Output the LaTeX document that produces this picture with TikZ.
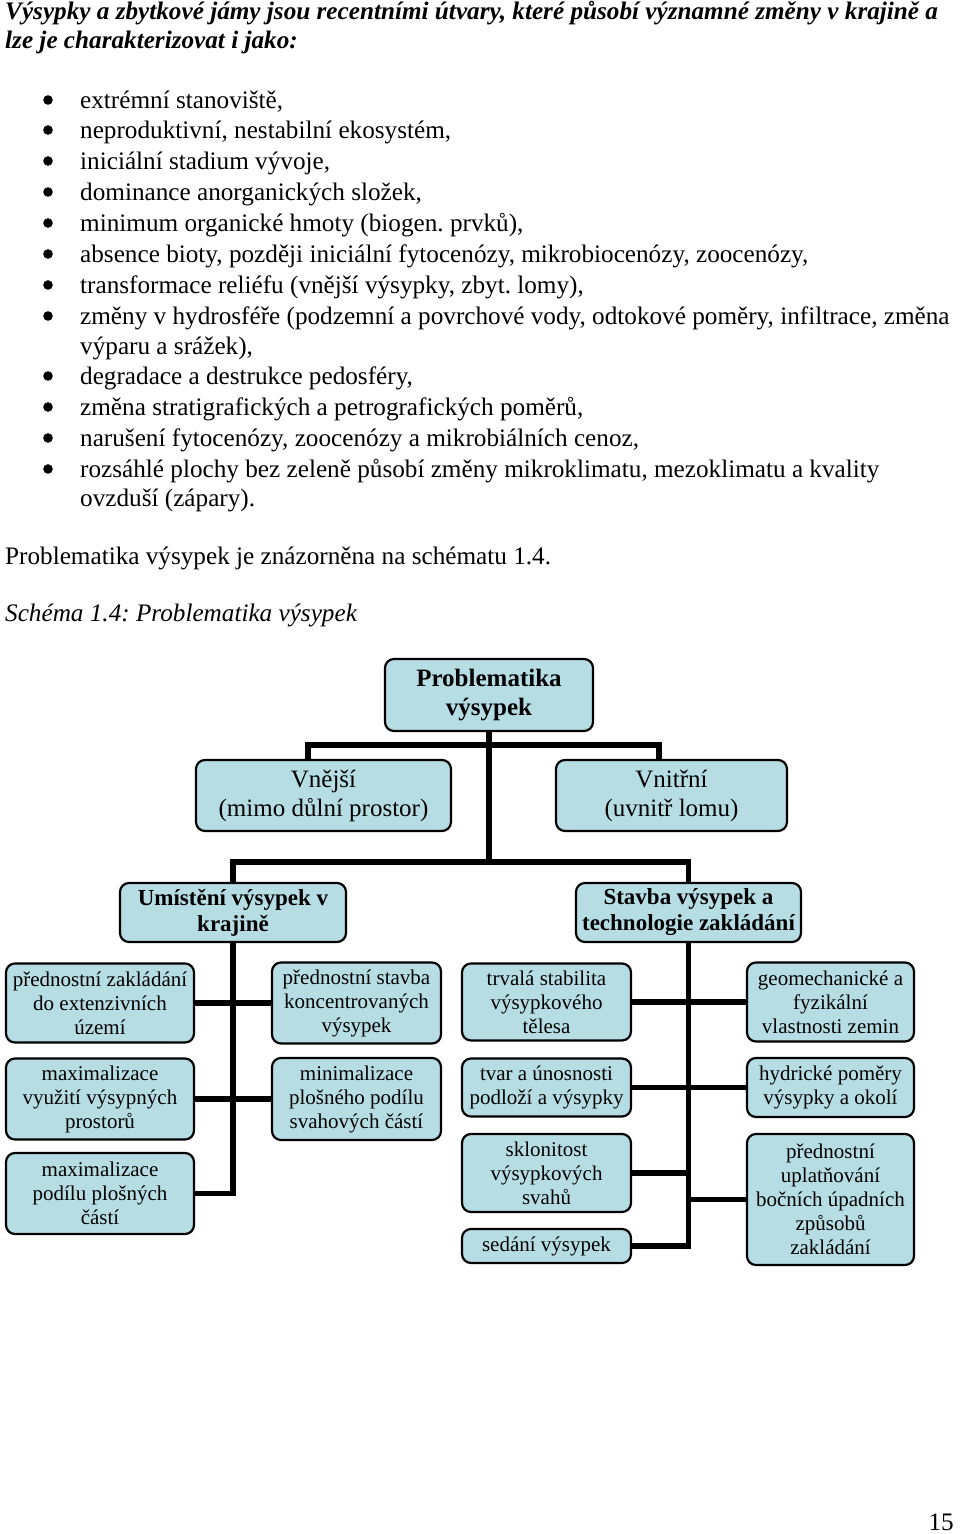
\documentclass[tikz,border=0pt]{standalone}
\usepackage{fontspec}
\setmainfont{Liberation Serif}
\usepackage{xcolor}
\definecolor{boxfill}{RGB}{183,221,228}
\tikzset{
  box/.style = {draw, line width=2.2pt, rounded corners=9pt, fill=boxfill, align=center, inner sep=0pt},
  small/.style = {box, font=\fontsize{21}{24}\selectfont},
  big/.style = {box, font=\fontsize{25}{29}\selectfont},
  head/.style = {box, font=\bfseries\fontsize{23}{26}\selectfont},
  conn/.style = {line width=5.5pt},
  txt/.style = {anchor=base west, inner sep=0pt, font=\fontsize{25.2}{31}\selectfont}
}
\frenchspacing

\begin{document}
\begin{tikzpicture}[x=1pt, y=-1pt]
	\useasboundingbox (0,0) rectangle (960,1534);
	% nadpis
	\node [txt, font=\bfseries\itshape\fontsize{25.2}{31}\selectfont] (h1) at (5,19) {Výsypky a zbytkové jámy jsou recentními útvary, které působí významné změny v krajině a};
	\node [txt, font=\bfseries\itshape\fontsize{25.2}{31}\selectfont] (h2) at (5,48) {lze je charakterizovat i jako:};
	% odrážky
	\foreach \y in {100,130,161,192,223,254,285,316,376,407,438,469}
		\fill (48,\y) circle (4.8);
	\node [txt] (l1) at (80,108) {extrémní stanoviště,};
	\node [txt] (l2) at (80,138) {neproduktivní, nestabilní ekosystém,};
	\node [txt] (l3) at (80,169) {iniciální stadium vývoje,};
	\node [txt] (l4) at (80,200) {dominance anorganických složek,};
	\node [txt] (l5) at (80,231) {minimum organické hmoty (biogen. prvků),};
	\node [txt] (l6) at (80,262) {absence bioty, později iniciální fytocenózy, mikrobiocenózy, zoocenózy,};
	\node [txt] (l7) at (80,293) {transformace reliéfu (vnější výsypky, zbyt. lomy),};
	\node [txt] (l8) at (80,324) {změny v hydrosféře (podzemní a povrchové vody, odtokové poměry, infiltrace, změna};
	\node [txt] (l8b) at (80,354) {výparu a srážek),};
	\node [txt] (l9) at (80,384) {degradace a destrukce pedosféry,};
	\node [txt] (l10) at (80,415) {změna stratigrafických a petrografických poměrů,};
	\node [txt] (l11) at (80,446) {narušení fytocenózy, zoocenózy a mikrobiálních cenoz,};
	\node [txt] (l12) at (80,477) {rozsáhlé plochy bez zeleně působí změny mikroklimatu, mezoklimatu a kvality};
	\node [txt] (l12b) at (80,506) {ovzduší (zápary).};
	\node [txt] (p1) at (5,564) {Problematika výsypek je znázorněna na schématu 1.4.};
	\node [txt, font=\itshape\fontsize{25.2}{31}\selectfont] (cap) at (5,621) {Schéma 1.4: Problematika výsypek};
	% schéma
	\node [box, font=\bfseries\fontsize{25}{29}\selectfont, minimum width=208, minimum height=72] (top) at (489,695) {Problematika\\výsypek};
	\node [big, minimum width=255, minimum height=71] (vnejsi) at (323.5,795.5) {Vnější\\(mimo důlní prostor)};
	\node [big, minimum width=231, minimum height=71] (vnitrni) at (671.5,795.5) {Vnitřní\\(uvnitř lomu)};
	\node [head, minimum width=226, minimum height=59] (umisteni) at (233,912.5) {Umístění výsypek v\\krajině};
	\node [head, minimum width=225, minimum height=59] (stavba) at (688.5,912.5) {Stavba výsypek a\\technologie zakládání};
	% Umístění
	\node [small, minimum width=188, minimum height=79] (z1) at (100,1003) {přednostní zakládání\\do extenzivních\\území};
	\node [small, minimum width=188, minimum height=81] (z2) at (100,1099) {maximalizace\\využití výsypných\\prostorů};
	\node [small, minimum width=188, minimum height=81] (z3) at (100,1193.5) {maximalizace\\podílu plošných\\částí};
	\node [small, minimum width=169, minimum height=81] (s1) at (356.5,1003) {přednostní stavba\\koncentrovaných\\výsypek};
	\node [small, minimum width=169, minimum height=82] (s2) at (356.5,1099) {minimalizace\\plošného podílu\\svahových částí};
	% Stavba
	\node [small, minimum width=169, minimum height=77] (t1) at (546.5,1002) {trvalá stabilita\\výsypkového\\tělesa};
	\node [small, minimum width=169, minimum height=58] (t2) at (546.5,1087.5) {tvar a únosnosti\\podloží a výsypky};
	\node [small, minimum width=169, minimum height=78] (t3) at (546.5,1173) {sklonitost\\výsypkových\\svahů};
	\node [small, minimum width=169, minimum height=34] (t4) at (546.5,1246) {sedání výsypek};
	\node [small, minimum width=167, minimum height=79] (g1) at (830.5,1002) {geomechanické a\\fyzikální\\vlastnosti zemin};
	\node [small, minimum width=167, minimum height=59] (g2) at (830.5,1087.5) {hydrické poměry\\výsypky a okolí};
	\node [small, minimum width=167, minimum height=131] (g3) at (830.5,1199.5) {přednostní\\uplatňování\\bočních úpadních\\způsobů\\zakládání};
	% spojnice
	\coordinate (hub1) at (489,745);
	\coordinate (hub2) at (489,862);
	\draw [conn] (top.south) -- (hub2);
	\draw [conn] ([xshift=-15.5pt]vnejsi.north) |- (hub1) -| ([xshift=-12.5pt]vnitrni.north);
	\draw [conn] (umisteni.north) |- (hub2) -| (stavba.north);
	\draw [conn] (umisteni.south) |- (z3.east);
	\draw [conn] (z1.east) -- (s1.west);
	\draw [conn] (z2.east) -- (s2.west);
	\draw [conn] (stavba.south) |- (t4.east);
	\draw [conn] (t1.east) -- (g1.west);
	\draw [conn] (t2.east) -- (g2.west);
	\draw [conn] (t3.east) -- (stavba.south |- t3.east);
	\draw [conn] (g3.west) -- (stavba.south |- g3.west);
	% strana
	\node [txt, anchor=base east] (pg) at (954,1530) {15};
\end{tikzpicture}
\end{document}
